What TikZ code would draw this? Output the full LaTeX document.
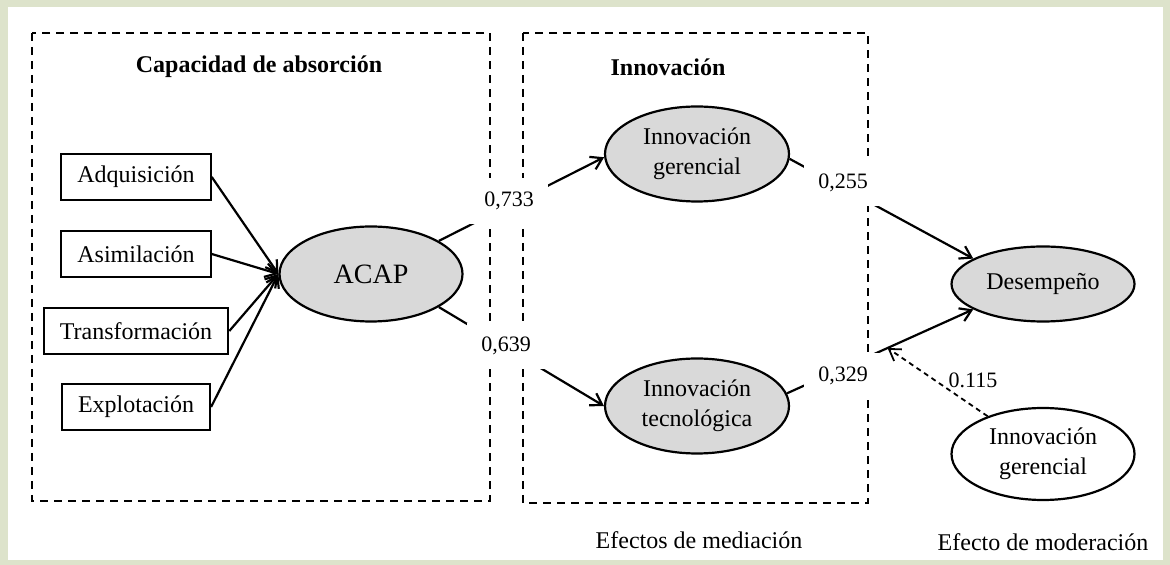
\documentclass[tikz,border=0pt]{standalone}
\usepackage{fontspec}
\setmainfont{Liberation Serif}
\usetikzlibrary{shapes.geometric,arrows.meta,calc}
\definecolor{bgtex}{RGB}{221,227,203}
\definecolor{ellfill}{RGB}{217,217,217}
\begin{document}
\begin{tikzpicture}[x=0.5pt,y=-0.5pt,
  fnt/.style={font=\fontsize{12pt}{15pt}\selectfont},
  ind/.style={draw,line width=1.1pt,fnt,inner xsep=8pt,minimum height=23pt},
  lat/.style={ellipse,draw,line width=1.1pt,fill=ellfill,fnt,align=center,inner sep=1pt,minimum width=92pt,minimum height=47.5pt},
  coef/.style={fill=white,inner xsep=7pt,inner ysep=7pt,font=\fontsize{11pt}{13pt}\selectfont},
  grp/.style={draw,line width=1.3pt,dash pattern=on 4pt off 3pt},
  conn/.style={line width=1.1pt,-{Straight Barb[length=5.5pt,width=7pt]}},
  ttl/.style={font=\fontsize{12pt}{15pt}\selectfont\bfseries},
  captxt/.style={font=\fontsize{12pt}{15pt}\selectfont},
]
\useasboundingbox (0,0) rectangle (1170,565);
\fill[bgtex] (0,0) rectangle (1170,565);
\fill[white] (8,7) rectangle (1163,560);

% group frames
\draw[grp] (32,33) rectangle (490,501);
\draw[grp] (523,33) rectangle (868,503);
\node[ttl] (t1) at (259,67) {Capacidad de absorción};
\node[ttl] (t2) at (668,67) {Innovación};

% indicators
\node[ind] (adq) at (136,177) {Adquisición};
\node[ind] (asi) at (136,254) {Asimilación};
\node[ind] (tra) at (136,331) {Transformación};
\node[ind] (exp) at (136,407) {Explotación};

% latent variables
\node[lat,minimum width=91.5pt,font=\fontsize{14pt}{16pt}\selectfont] (acap) at (371,274) {ACAP};
\node[lat] (ger) at (697,154) {Innovación\\gerencial};
\node[lat] (tec) at (697,406) {Innovación\\tecnológica};
\node[lat,minimum width=91.5pt,minimum height=37.5pt] (des) at (1043,284) {Desempeño};
\node[lat,fill=white,minimum width=91.5pt,minimum height=46pt] (mgr) at (1043,454) {Innovación\\gerencial};

% connectors
\draw[conn] (adq.east) -- (acap.west);
\draw[conn] (asi.east) -- (acap.west);
\draw[conn] (tra.east) -- (acap.west);
\draw[conn] (exp.east) -- (acap.west);
\draw[conn] (acap.26) -- (ger.182);
\draw[conn] (acap.-26) -- (tec.west);
\draw[conn] (ger.-3) -- (des.160);
\draw[conn] (tec.8) -- (des.-160);
\coordinate (mod) at ($(tec.8)!0.54!(des.-160)$);
\draw[line width=0.9pt,dash pattern=on 2.5pt off 2pt,-{Straight Barb[length=5.5pt,width=7pt]}] (mgr) -- (mod);

% coefficients
\node[coef] (c1) at (509,201) {0,733};
\node[coef] (c2) at (506,346) {0,639};
\node[coef] (c3) at (843,183) {0,255};
\node[coef] (c4) at (843,376) {0,329};
\node[font=\fontsize{11pt}{13pt}\selectfont,inner sep=1pt] (c5) at (973,380) {0.115};

% captions
\node[captxt] (m1) at (699,540) {Efectos de mediación};
\node[captxt] (m2) at (1043,542) {Efecto de moderación};
\end{tikzpicture}
\end{document}
